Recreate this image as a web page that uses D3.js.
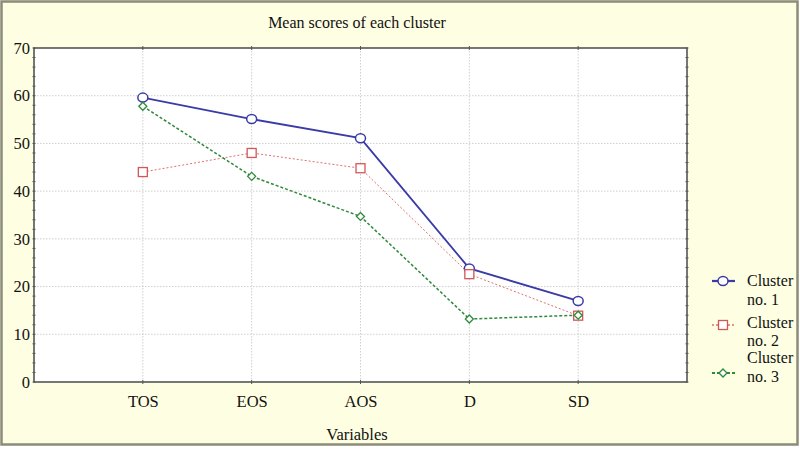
<!DOCTYPE html>
<html><head><meta charset="utf-8">
<script src="https://cdn.jsdelivr.net/npm/d3@7"></script>
<style>body{margin:0;background:#fff}svg{display:block}
svg text{font-family:"Liberation Serif","Times New Roman","DejaVu Serif",serif !important;}</style>
</head><body>
<svg id="c" width="800" height="449"></svg>
<script>
const categories = ["TOS", "EOS", "AOS", "D", "SD"];
const cluster1 = [59.6, 55.1, 51.1, 23.8, 17.0];
const cluster2 = [44.0, 48.0, 44.8, 22.6, 13.9];
const cluster3 = [57.8, 43.1, 34.7, 13.2, 14.0];
const yTicks = [0, 10, 20, 30, 40, 50, 60, 70];
const seriesNames = ["Cluster no. 1", "Cluster no. 2", "Cluster no. 3"];

const svg = d3.select("#c");

svg.append("rect").attr("x", 1.5).attr("y", 1.5).attr("width", 796).attr("height", 443)
  .attr("fill", "#fefee2").attr("stroke", "#8c8c78").attr("stroke-width", 2.5);

const L = 34, T = 48, R = 687, B = 382;
const x = d3.scalePoint().domain(categories).range([L, R]).padding(1);
const y = d3.scaleLinear().domain([0, 70]).range([B, T]);

svg.append("rect").attr("x", L).attr("y", T).attr("width", R - L).attr("height", B - T).attr("fill", "#fff");

// grid
svg.append("g").selectAll("line").data(yTicks.slice(1, -1)).join("line")
  .attr("x1", L).attr("x2", R).attr("y1", d => y(d)).attr("y2", d => y(d))
  .attr("stroke", "#cfcfcf").attr("stroke-dasharray", "1.5,1.5");
svg.append("g").selectAll("line").data(categories).join("line")
  .attr("x1", d => x(d)).attr("x2", d => x(d)).attr("y1", T).attr("y2", B)
  .attr("stroke", "#cfcfcf").attr("stroke-dasharray", "1.5,1.5");

// axes
const yL = d3.axisLeft(y).tickValues(yTicks).tickSize(0).tickPadding(4);
const gy = svg.append("g").attr("transform", `translate(${L},0)`).call(yL);
gy.select(".domain").remove();
gy.attr("font-family", null);
gy.selectAll("text").attr("font-size", 16.5).attr("fill", "#111");

const minor = d3.range(0, 71, 2);
[L, R].forEach(px => {
  svg.append("g").selectAll("line").data(minor).join("line")
    .attr("x1", px - 1.5).attr("x2", px + 1.5).attr("y1", d => y(d)).attr("y2", d => y(d))
    .attr("stroke", "#555").attr("stroke-width", 1);
});
[T, B].forEach(py => {
  svg.append("g").selectAll("line").data(categories).join("line")
    .attr("x1", d => x(d)).attr("x2", d => x(d)).attr("y1", py - 2).attr("y2", py + 2)
    .attr("stroke", "#555");
});

const gx = svg.append("g").attr("transform", `translate(0,${B})`)
  .call(d3.axisBottom(x).tickSize(0).tickPadding(13));
gx.select(".domain").remove();
gx.attr("font-family", null);
gx.selectAll("text").attr("font-size", 16.5).attr("fill", "#111");

svg.append("rect").attr("x", L).attr("y", T).attr("width", R - L).attr("height", B - T)
  .attr("fill", "none").attr("stroke", "#555").attr("stroke-width", 1.6);

// title & axis title
svg.append("text").attr("x", 357).attr("y", 28).attr("text-anchor", "middle")
  .attr("font-size", 16).attr("fill", "#111").text("Mean scores of each cluster");
svg.append("text").attr("x", 357).attr("y", 440).attr("text-anchor", "middle")
  .attr("font-size", 16.5).attr("fill", "#111").text("Variables");

const series = [
  {vals: cluster1, color: "#3a3aa8", width: 1.8, dash: null, marker: "circle", mc: "#3a3aa8"},
  {vals: cluster2, color: "#e07070", width: 1, dash: "2,2", marker: "square", mc: "#d05858"},
  {vals: cluster3, color: "#2e8a3a", width: 1.5, dash: "3,2", marker: "diamond", mc: "#2e8a3a"}
];

const line = d3.line().x((d, i) => x(categories[i])).y(d => y(d));

function drawMarker(g, type, cx, cy, color) {
  if (type === "circle") {
    g.append("ellipse").attr("cx", cx).attr("cy", cy).attr("rx", 5).attr("ry", 4.5)
      .attr("fill", "#fff").attr("stroke", color).attr("stroke-width", 1.5);
  } else if (type === "square") {
    g.append("rect").attr("x", cx - 4.5).attr("y", cy - 4.5).attr("width", 9).attr("height", 9)
      .attr("fill", "#fff").attr("stroke", color).attr("stroke-width", 1.3);
  } else {
    g.append("path").attr("d", `M${cx},${cy-4}L${cx+4},${cy}L${cx},${cy+4}L${cx-4},${cy}Z`)
      .attr("fill", "#fff").attr("stroke", color).attr("stroke-width", 1.3);
  }
}

series.forEach(s => {
  svg.append("path").datum(s.vals).attr("d", line).attr("fill", "none")
    .attr("stroke", s.color).attr("stroke-width", s.width).attr("stroke-dasharray", s.dash);
});
series.forEach(s => {
  const g = svg.append("g");
  s.vals.forEach((v, i) => drawMarker(g, s.marker, x(categories[i]), y(v), s.mc));
});

// legend
const legY = [281, 325, 373];
const legText = [[281, 300], [323, 341], [358, 377]];
series.forEach((s, i) => {
  const g = svg.append("g");
  g.append("line").attr("x1", 712).attr("x2", 735).attr("y1", legY[i]).attr("y2", legY[i])
    .attr("stroke", s.color).attr("stroke-width", s.width + 0.4).attr("stroke-dasharray", s.dash);
  drawMarker(g, s.marker, 723, legY[i], s.mc);
  const parts = seriesNames[i].split(" ");
  g.append("text").attr("x", 747).attr("y", legText[i][0] + 5)
    .attr("font-size", 16).attr("fill", "#111").text(parts[0]);
  g.append("text").attr("x", 747).attr("y", legText[i][1] + 5)
    .attr("font-size", 16).attr("fill", "#111").text(parts[1] + " " + parts[2]);
});
</script>
</body></html>
